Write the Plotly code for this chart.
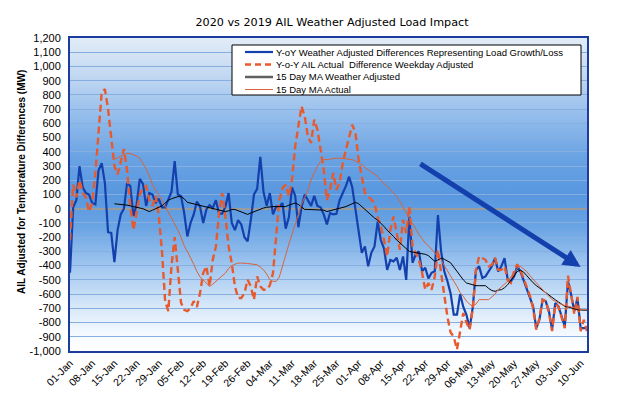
import base64
import pandas as pd
import plotly.graph_objects as go

# ---------------- data ----------------
start_date = "2020-01-01"
n_days = 164
dates = pd.date_range(start_date, periods=n_days, freq="D")

# Y-oY Weather Adjusted Differences Representing Load Growth/Loss (MW)
wadj = [
    -450, 10, 60, 300, 150, 110, 100, 40, 30, 270,
    320, 180, -165, -170, -375, -150, -40, 0, 180, 160,
    -50, 30, 210, 175, 20, 110, 100, 40, 70, 10,
    10, 60, 120, 335, 100, 90, -30, -195, -100, -40,
    50, 15, -100, -5, 25, 5, 60, -35, -35, 15,
    110, -100, -150, -80, -110, -200, -230, -80, 100, 140,
    365, 120, 20, 110, -40, 15, 15, 40, -140, -60,
    150, 90, -130, 10, 100, 60, 20, 90, 20, 10,
    -40, -110, -30, -40, -35, 60, 110, 160, 225, 150,
    -5, -170, -310, -265, -405, -310, -265, -90, -220, -280,
    -430, -360, -370, -345, -430, -335, -500, -55, -380, -320,
    -300, -440, -415, -490, -450, -440, -45, -300, -440, -510,
    -595, -745, -745, -600, -690, -745, -840, -690, -430, -405,
    -487, -476, -441, -405, -347, -441, -405, -347, -499, -510,
    -476, -405, -441, -499, -557, -616, -686, -839, -780, -639,
    -651, -721, -850, -663, -686, -756, -827, -510, -604, -721,
    -628, -839, -839, -839,
]

# Y-o-Y AIL Actual Difference Weekday Adjusted (MW)
actual = [
    -220, 170, 80, 200, 110, 80, -20, 40, 250, 550,
    820, 840, 700, 500, 300, 240, 330, 420, 270, 20,
    -150, -30, 100, 150, 160, 60, 20, 90, -50, -300,
    -650, -720, -400, -200, -450, -660, -710, -720, -700, -650,
    -690, -593, -452, -405, -546, -360, -265, -30, 110, -54,
    -265, -382, -546, -628, -628, -593, -499, -546, -640, -476,
    -546, -569, -569, -540, -452, -195, 63, 145, 169, 87,
    204, 438, 579, 720, 649, 509, 462, 626, 556, 415,
    274, 60, 134, 251, 134, 180, 321, 415, 509, 590,
    532, 345, 227, 110, 87, 63, 40, -60, -124, -218,
    -335, -148, -54, -171, -288, -77, -171, 16, -265, -312,
    -359, -450, -569, -523, -569, -476, -290, -452, -600, -760,
    -870, -900, -990, -860, -733, -800, -850, -700, -429, -335,
    -347, -359, -405, -395, -345, -430, -430, -405, -500, -520,
    -440, -390, -430, -490, -540, -610, -700, -850, -770, -640,
    -650, -730, -860, -670, -690, -760, -840, -470, -600, -740,
    -620, -860, -780, -860,
]

# 15 Day MA Weather Adjusted (MW) - starts 15-Jan
ma_wadj = [None] * 14 + [
    35, 33, 30, 30, 25, 20, 15, 12, 10, 0,
    -10, -20, -10, 0, 5, 20, 40, 60, 70, 80,
    85, 85, 70, 45, 40, 35, 30, 20, 15, 15,
    10, 5, -5, -10, -15, -20, -15, -5, -5, -15,
    -25, -35, -40, -30, -20, -10, 0, 5, 10, 15,
    15, 15, 15, 15, 15, 25, 35, 40, 30, 10,
    -5, -5, -5, -5, -5, -5, -10, -20, -15, -10,
    -5, 0, 5, 15, 25, 35, 45, 35, 15, -5,
    -30, -50, -65, -80, -100, -125, -150, -170, -195, -220,
    -240, -260, -280, -300, -305, -308, -310, -312, -320, -330,
    -350, -370, -360, -347, -355, -365, -380, -410, -441, -470,
    -500, -522, -530, -538, -541, -541, -541, -541, -560, -575,
    -581, -572, -569, -555, -534, -500, -470, -441, -432, -445,
    -470, -499, -520, -540, -557, -575, -590, -605, -628, -640,
    -655, -670, -686, -690, -698, -705, -710, -712, -714, -714,
]

# 15 Day MA Actual (MW) - starts 15-Jan
ma_actual = [None] * 14 + [
    345, 360, 370, 380, 390, 388, 380, 370, 355, 320,
    280, 230, 170, 130, 100, 60, 20, -25, -70, -110,
    -150, -200, -260, -300, -340, -390, -440, -480, -500, -525,
    -546, -530, -511, -490, -470, -452, -420, -400, -390, -382,
    -382, -382, -385, -388, -392, -394, -410, -429, -460, -499,
    -510, -511, -480, -400, -330, -250, -180, -110, -40, 30,
    80, 130, 204, 250, 298, 330, 345, 345, 350, 356,
    356, 355, 352, 350, 348, 345, 335, 325, 310, 290,
    274, 260, 240, 227, 200, 180, 157, 135, 110, 87,
    50, 10, -30, -70, -110, -148, -180, -210, -241, -260,
    -285, -312, -330, -359, -400, -440, -480, -510, -546, -590,
    -616, -650, -670, -686, -670, -639, -639, -639, -639, -620,
    -600, -569, -550, -530, -510, -480, -450, -420, -405, -420,
    -441, -470, -499, -520, -545, -569, -590, -610, -639, -650,
    -662, -674, -680, -686, -692, -698, -702, -706, -710, -710,
]

series_names = [
    "Y-oY Weather Adjusted Differences Representing Load Growth/Loss",
    "Y-o-Y AIL Actual  Difference Weekday Adjusted",
    "15 Day MA Weather Adjusted",
    "15 Day MA Actual",
]

x_tick_labels = [
    "01-Jan", "08-Jan", "15-Jan", "22-Jan", "29-Jan", "05-Feb", "12-Feb", "19-Feb",
    "26-Feb", "04-Mar", "11-Mar", "18-Mar", "25-Mar", "01-Apr", "08-Apr", "15-Apr",
    "22-Apr", "29-Apr", "06-May", "13-May", "20-May", "27-May", "03-Jun", "10-Jun",
]
x_tick_vals = pd.date_range(start_date, periods=len(x_tick_labels), freq="7D")

y_tick_vals = [-1000, -900, -800, -700, -600, -500, -400, -300, -200, -100, 0,
               100, 200, 300, 400, 500, 600, 700, 800, 900, 1000, 1100, 1200]
y_tick_labels = ["-1,000", "-900", "-800", "-700", "-600", "-500", "-400", "-300",
                 "-200", "-100", "0", "100", "200", "300", "400", "500", "600",
                 "700", "800", "900", "1,000", "1,100", "1,200"]

title_text = "2020 vs 2019 AIL Weather Adjusted Load Impact"
y_title_text = "AIL Adjusted for Temperature Differences (MW)"

# trend arrow (tail -> head), in data coordinates
arrow_tail = ("2020-04-20", 322)
arrow_head = ("2020-06-10", -409)

# ---------------- style ----------------
BLUE = "#1440ad"
ORANGE = "#e85a2c"
ORANGE_THIN = "#d8633c"
FRAME = "#1c3c9e"
FONT = "Liberation Sans"

# the page body adds an 8px offset; target plot area in window pixels:
OFF = 8
FIG_W, FIG_H = 619, 399
L, R, T, B = 70, 587, 38, 351
W, H = R - L, B - T
px = lambda v: (v - L) / W
py = lambda v: (B - v) / H

grad_stops = [
    (0.00, "#e2ecf7"), (0.12, "#c2d8f2"), (0.25, "#94bdec"), (0.38, "#6aa3e3"),
    (0.50, "#5897df"), (0.60, "#68a3e3"), (0.72, "#9dc4ef"), (0.85, "#d4e6f8"),
    (0.95, "#f6faff"), (1.00, "#ffffff"),
]
stops_svg = "".join(
    f"<stop offset='{o}' stop-color='{c}'/>" for o, c in grad_stops
)
svg = (
    "<svg xmlns='http://www.w3.org/2000/svg' width='10' height='100' "
    "preserveAspectRatio='none'><defs><linearGradient id='g' x1='0' y1='0' "
    f"x2='0' y2='1'>{stops_svg}</linearGradient></defs>"
    "<rect width='10' height='100' fill='url(#g)'/></svg>"
)
bg_uri = "data:image/svg+xml;base64," + base64.b64encode(svg.encode()).decode()

fig = go.Figure()
fig.add_trace(go.Scatter(x=dates, y=wadj, mode="lines", name=series_names[0],
                         line=dict(color=BLUE, width=2.2), showlegend=False))
fig.add_trace(go.Scatter(x=dates, y=actual, mode="lines", name=series_names[1],
                         line=dict(color=ORANGE, width=2.4, dash="7px,4px"),
                         showlegend=False))
fig.add_trace(go.Scatter(x=dates, y=ma_wadj, mode="lines", name=series_names[2],
                         line=dict(color="#000000", width=1), showlegend=False))
fig.add_trace(go.Scatter(x=dates, y=ma_actual, mode="lines", name=series_names[3],
                         line=dict(color=ORANGE_THIN, width=1), showlegend=False))

# --- legend drawn by hand to match the compact Excel legend ---
shapes = [
    dict(type="rect", xref="paper", yref="paper", x0=px(232), x1=px(581),
         y0=py(95), y1=py(45), fillcolor="white", line=dict(color="black", width=1),
         layer="above"),
]
legend_styles = [
    dict(color=BLUE, width=2.2, dash="solid"),
    dict(color=ORANGE, width=2.4, dash="6px,4px"),
    dict(color="#606060", width=2.5, dash="solid"),
    dict(color=ORANGE_THIN, width=1, dash="solid"),
]
row_y = [52, 64.5, 77, 89.5]
annotations = []
for name, st, ry in zip(series_names, legend_styles, row_y):
    shapes.append(dict(type="line", xref="paper", yref="paper", x0=px(245), x1=px(273),
                       y0=py(ry), y1=py(ry), line=st, layer="above"))
    annotations.append(dict(xref="paper", yref="paper", x=px(274), y=py(ry),
                            text=name, showarrow=False, xanchor="left",
                            yanchor="middle", font=dict(family=FONT, size=9.5,
                                                        color="black")))

annotations.append(dict(xref="paper", yref="paper", x=px(21), y=py(182),
                        text=f"<b>{y_title_text}</b>", textangle=-90,
                        showarrow=False, xanchor="center", yanchor="middle",
                        font=dict(family=FONT, size=10, color="black")))

annotations.append(dict(x=arrow_head[0], y=arrow_head[1], ax=arrow_tail[0],
                        ay=arrow_tail[1], xref="x", yref="y", axref="x", ayref="y",
                        text="", showarrow=True, arrowhead=2, arrowsize=0.7,
                        arrowwidth=5, arrowcolor=BLUE))

fig.update_layout(
    width=FIG_W, height=FIG_H,
    margin=dict(l=L - OFF, r=FIG_W - R + OFF, t=T - OFF, b=FIG_H - B + OFF,
                autoexpand=False),
    paper_bgcolor="white", plot_bgcolor="rgba(0,0,0,0)",
    title=dict(text=title_text, x=(332 - OFF) / FIG_W, y=1 - (22 - OFF) / FIG_H,
               xref="container", yref="container", xanchor="center",
               yanchor="middle",
               font=dict(family="DejaVu Sans", size=11.2, color="black")),
    showlegend=False,
    shapes=shapes,
    annotations=annotations,
    images=[dict(source=bg_uri, xref="paper", yref="paper", x=0, y=1,
                 sizex=1, sizey=1, sizing="stretch", layer="below",
                 xanchor="left", yanchor="top")],
    xaxis=dict(type="date", range=[dates[0], dates[-1]], tickvals=x_tick_vals,
               ticktext=x_tick_labels, tickangle=-45, showgrid=False,
               zeroline=False, showline=True, linecolor=FRAME, linewidth=2,
               mirror=True, ticks="", automargin=False,
               tickfont=dict(family=FONT, size=10.5, color="black")),
    yaxis=dict(range=[-1000, 1200], tickvals=y_tick_vals, ticktext=y_tick_labels,
               showgrid=True, gridcolor="#86aedf", gridwidth=1,
               zeroline=True, zerolinecolor="#9b9b9b", zerolinewidth=1.5,
               showline=True, linecolor=FRAME, linewidth=2, mirror=True,
               ticks="", automargin=False, ticklabelstandoff=5,
               tickfont=dict(family=FONT, size=11, color="black")),
)

fig.write_html("out.html")
